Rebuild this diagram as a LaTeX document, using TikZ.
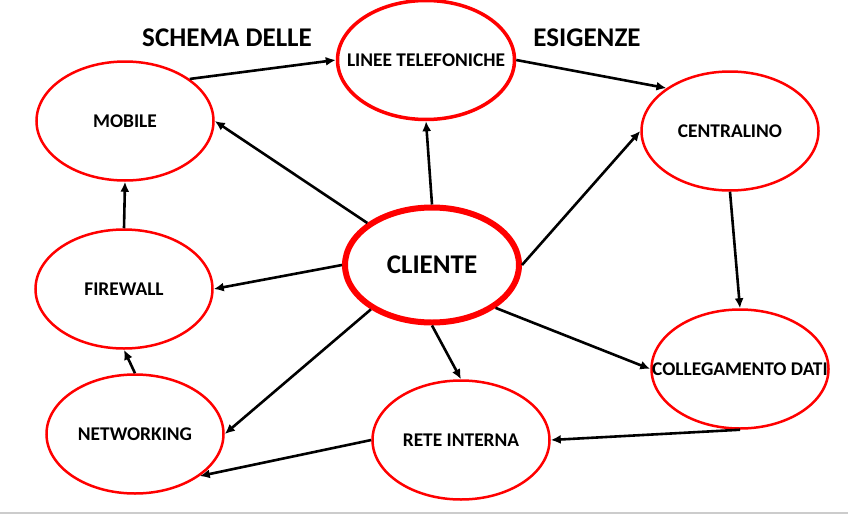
\documentclass[tikz,border=0pt]{standalone}
\usepackage{fontspec}
\setmainfont{Carlito}
\usetikzlibrary{shapes.geometric}
\usetikzlibrary{arrows.meta}

\tikzset{
  bolla/.style={ellipse,draw=red,line width=2.5pt,minimum width=177pt,minimum height=119pt,inner ysep=0pt,inner xsep=-30pt,
    font=\fontsize{19.4}{22}\selectfont\bfseries},
  freccia/.style={black,line width=2.6pt,-{Latex[length=10pt,width=9pt]}}
}

\begin{document}
\begin{tikzpicture}[x=1pt,y=-1pt]

\useasboundingbox (0,0) rectangle (848,514);
\draw[gray!40,line width=1.2pt] (0,513) -- (848,513);

\node[font=\fontsize{27}{30}\selectfont\bfseries] (T1) at (227,38) {SCHEMA DELLE};
\node[font=\fontsize{27}{30}\selectfont\bfseries] (T2) at (587,38) {ESIGENZE};

\node[bolla,line width=3.5pt] (LIN) at (426,60) {LINEE TELEFONICHE};
\node[bolla] (MOB) at (125,121) {MOBILE};
\node[bolla] (CEN) at (730,131) {CENTRALINO};
\node[bolla,line width=6pt,minimum width=174pt,minimum height=115pt,font=\fontsize{27}{30}\selectfont\bfseries] (CLI) at (432,265) {CLIENTE};
\node[bolla] (FIR) at (124,289) {FIREWALL};
\node[bolla] (COL) at (740,369) {COLLEGAMENTO DATI};
\node[bolla] (NET) at (135,434) {NETWORKING};
\node[bolla] (RET) at (461,440) {RETE INTERNA};

\draw[freccia] (MOB.33) -- (LIN.west);
\draw[freccia] (LIN.east) -- (CEN.146);
\draw[freccia] (CLI.north) -- (LIN.south);
\draw[freccia] (CLI.147) -- (MOB.east);
\draw[freccia] (CLI.east) -- (CEN.west);
\draw[freccia] (CEN.south) -- (COL.north);
\draw[freccia] (CLI.west) -- (FIR.east);
\draw[freccia] (FIR.north) -- (MOB.south);
\draw[freccia] (CLI.-34) -- (COL.west);
\draw[freccia] (CLI.south) -- (RET.north);
\draw[freccia] (COL.south) -- (RET.east);
\draw[freccia] (CLI.216) -- (NET.east);
\draw[freccia] (RET.west) -- (NET.-33);
\draw[freccia] (NET.north) -- (FIR.south);

\end{tikzpicture}
\end{document}
